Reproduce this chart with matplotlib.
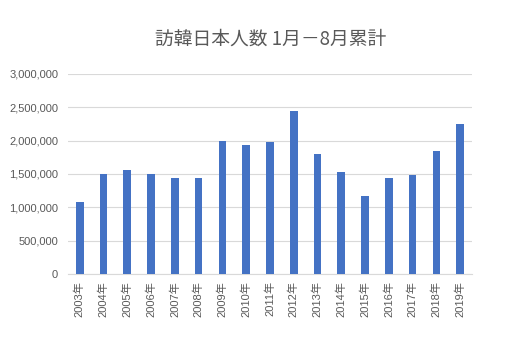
import matplotlib
matplotlib.use("Agg")
import matplotlib.pyplot as plt
from matplotlib.ticker import FuncFormatter

years = [f"{y}年" for y in range(2003, 2020)]
visitors = [1080000, 1500000, 1560000, 1500000, 1445000, 1445000, 1995000,
            1940000, 1985000, 2445000, 1800000, 1530000, 1170000, 1440000,
            1485000, 1845000, 2250000]
yticks = [0, 500000, 1000000, 1500000, 2000000, 2500000, 3000000]

plt.rcParams['font.family'] = ['Liberation Sans', 'Noto Sans CJK JP', 'DejaVu Sans']

fig = plt.figure(figsize=(5.06, 3.55), dpi=100)
ax = fig.add_axes([0.134, 0.228, 0.799, 0.564])

x = list(range(len(years)))
ax.bar(x, visitors, width=0.32, color='#4472C4', zorder=3)

ax.set_xlim(-0.5, len(years) - 0.5)
ax.set_ylim(0, 3000000)
ax.set_yticks(yticks)
ax.yaxis.set_major_formatter(FuncFormatter(lambda v, p: f"{int(v):,}"))
ax.set_xticks(x)
ax.set_xticklabels(years, rotation=90)

ax.grid(axis='y', color='#D9D9D9', linewidth=0.8, zorder=0)
for s in ['top', 'right', 'left']:
    ax.spines[s].set_visible(False)
ax.spines['bottom'].set_color('#D9D9D9')
ax.tick_params(axis='both', length=0, colors='#595959', labelsize=8)
ax.tick_params(axis='y', pad=7)
ax.tick_params(axis='x', pad=5)

fig.text(0.535, 0.89, "訪韓日本人数 1月－8月累計", ha='center', va='center',
         fontsize=13.5, color='#595959', family=['Noto Sans CJK JP', 'DejaVu Sans'])

fig.savefig("out.png", dpi=100, facecolor='white')
